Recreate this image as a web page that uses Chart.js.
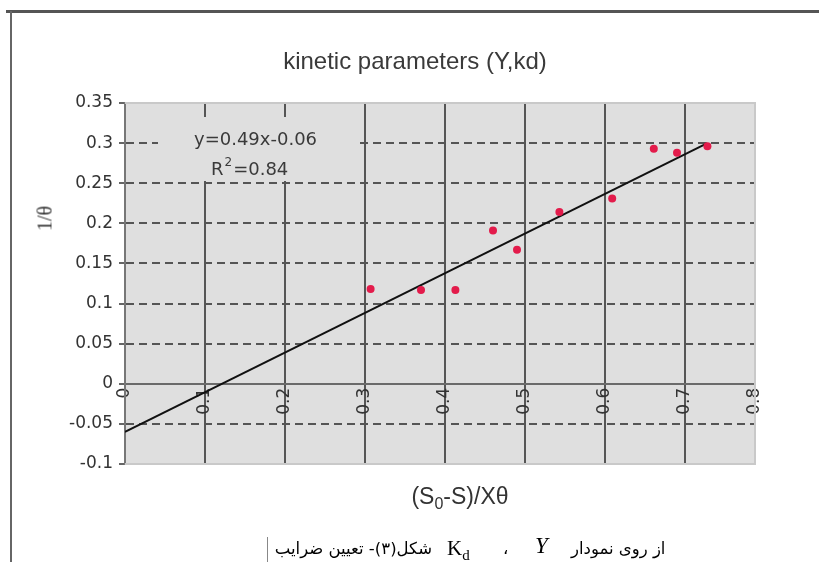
<!DOCTYPE html>
<html>
<head>
<meta charset="utf-8">
<script src="https://cdn.jsdelivr.net/npm/chart.js@4.4.0/dist/chart.umd.min.js"></script>
<style>
  html, body { margin: 0; padding: 0; background: #ffffff; }
  #wrap { position: relative; width: 819px; height: 562px; overflow: hidden; }
  #chart { position: absolute; left: 0; top: 0; }
  .frame { position: absolute; background: #555; }
  .txt { position: absolute; white-space: nowrap; color: #333; }
  #title { left: 165px; width: 500px; top: 47px; text-align: center; font: 24px "Liberation Sans", sans-serif; color: #3a3a3a; }
  #ytitle { left: 20px; top: 207px; width: 50px; text-align: center; font: 20px "Liberation Serif", serif; transform: rotate(-90deg); }
  #xtitle { left: 360px; width: 200px; top: 483px; text-align: center; font: 23px "Liberation Sans", sans-serif; }
  #xtitle sub { font-size: 16px; vertical-align: -5px; }
  .fa { font: 16.5px "DejaVu Sans", sans-serif; direction: rtl; color: #000; top: 539px; }
  .math { font: 21px "Liberation Serif", serif; color: #000; top: 536px; }
</style>
</head>
<body>
<div id="wrap">
  <canvas id="chart" width="819" height="562"></canvas>
  <div class="frame" style="left:6px; top:10px; width:813px; height:3px;"></div>
  <div class="frame" style="left:10px; top:11px; width:2px; height:551px; background:#666;"></div>
  <div class="frame" style="left:267px; top:537px; width:1px; height:25px; background:#888;"></div>
  <div class="txt" id="title">kinetic parameters (Y,kd)</div>
  <div class="txt" id="ytitle">1/θ</div>
  <div class="txt" id="xtitle">(S<sub>0</sub>-S)/Xθ</div>
  <div class="txt fa" style="right:387px;">شکل(۳)- تعیین ضرایب</div>
  <div class="txt math" style="left:447px;">K<sub style="font-size:15px; vertical-align:-5px;">d</sub></div>
  <div class="txt fa" style="left:503px;">،</div>
  <div class="txt math" style="left:535px; font-style:italic; font-size:23px; top:533px;">Y</div>
  <div class="txt fa" style="left:571px;">از روی نمودار</div>
</div>
<script>
const canvas = document.getElementById("chart");

// measured points (S0-S)/X.theta vs 1/theta
const xValues = [0.307, 0.370, 0.413, 0.460, 0.490, 0.543, 0.609, 0.661, 0.690, 0.728];
const yValues = [0.118, 0.117, 0.117, 0.191, 0.167, 0.214, 0.231, 0.293, 0.288, 0.296];
// end points of the fitted line y=0.49x-0.06
const trendX = [0, 0.728];
const trendY = [-0.06, 0.300];
const equationText = "y=0.49x-0.06";
const r2Text = "0.84";
// axis ticks
const xTicks = [0, 0.1, 0.2, 0.3, 0.4, 0.5, 0.6, 0.7];
const xTickLabels = ["0", "0.1", "0.2", "0.3", "0.4", "0.5", "0.6", "0.7", "0.8"];
const yTicks = [-0.1, -0.05, 0, 0.05, 0.1, 0.15, 0.2, 0.25, 0.3, 0.35];
// last column of the original picture is squeezed, so the 0.8 edge sits here
const xEdge = 0.7875;

const plotBg = "#dfdfdf";
const gridDark = "#555555";
const tickFont = { family: "DejaVu Sans", size: 17 };

const points = xValues.map((x, i) => ({ x: x, y: yValues[i] }));
const trend = trendX.map((x, i) => ({ x: x, y: trendY[i] }));

//background of the plot + light outer edge
const plotArea = {
  id: "plotArea",
  beforeDraw(chart) {
    const a = chart.chartArea;
    const ctx = chart.ctx;
    ctx.save();
    ctx.fillStyle = plotBg;
    ctx.fillRect(a.left, a.top, a.right - a.left, a.bottom - a.top);
    ctx.restore();
  },
  beforeDatasetsDraw(chart) {
    const a = chart.chartArea;
    const ctx = chart.ctx;
    ctx.save();
    ctx.strokeStyle = "#c9c9c9";
    ctx.lineWidth = 2;
    ctx.beginPath();
    ctx.moveTo(a.left, a.top);
    ctx.lineTo(a.right, a.top);
    ctx.lineTo(a.right, a.bottom);
    ctx.lineTo(a.left, a.bottom);
    ctx.stroke();
    // trendline label box covers the grid
    ctx.fillStyle = plotBg;
    ctx.fillRect(158, 117, 200, 64);
    ctx.fillStyle = "#3a3a3a";
    ctx.font = '18px "DejaVu Sans"';
    ctx.textBaseline = "alphabetic";
    ctx.textAlign = "left";
    ctx.fillText(equationText, 194, 145);
    let x = 211;
    ctx.fillText("R", x, 175);
    x += ctx.measureText("R").width;
    ctx.font = '12px "DejaVu Sans"';
    ctx.fillText("2", x + 1, 166);
    x += ctx.measureText("2").width + 2;
    ctx.font = '18px "DejaVu Sans"';
    ctx.fillText("=" + r2Text, x, 175);
    ctx.restore();
  }
};

let myChart = new Chart(canvas, {
  type: "scatter",
  plugins: [plotArea],
  data: {
    datasets: [
      {
        data: points,
        backgroundColor: "#e31b4b",
        borderWidth: 0,
        pointRadius: 4,
        order: 0,
      },
      {
        data: trend,
        showLine: true,
        borderColor: "#111111",
        borderWidth: 2,
        pointRadius: 0,
        order: 1,
      },
    ],
  },
  options: {
    responsive: false,
    animation: false,
    devicePixelRatio: 1,
    layout: { padding: { left: 0, top: 103, right: 64, bottom: 98 } },
    plugins: {
      legend: { display: false },
      tooltip: { enabled: false },
    },
    scales: {
      x: {
        type: "linear",
        position: { y: 0 },
        min: 0,
        max: xEdge,
        afterBuildTicks: (scale) => {
          scale.ticks = xTicks.concat([xEdge]).map((v) => ({ value: v }));
        },
        ticks: {
          minRotation: 90,
          maxRotation: 90,
          padding: 4,
          color: "#333",
          font: tickFont,
          callback: (v, i) => xTickLabels[i],
        },
        grid: {
          drawTicks: false,
          lineWidth: 2,
          color: (ctx) => {
            if (!ctx.tick) return gridDark;
            if (ctx.tick.value === 0) return "#777";
            if (ctx.tick.value === xEdge) return "rgba(0,0,0,0)";
            return gridDark;
          },
        },
        border: { display: true, color: "#6a6a6a", width: 2 },
      },
      y: {
        type: "linear",
        min: -0.1,
        max: 0.35,
        afterBuildTicks: (scale) => {
          scale.ticks = yTicks.map((v) => ({ value: v }));
        },
        afterFit: (scale) => {
          scale.width = 125;
        },
        ticks: {
          padding: 6,
          color: "#333",
          font: tickFont,
          callback: (v) => String(v),
        },
        grid: {
          lineWidth: 2,
          tickLength: 6,
          tickColor: "#666",
          tickWidth: 2,
          tickBorderDash: [],
          color: (ctx) => {
            if (!ctx.tick) return gridDark;
            const v = ctx.tick.value;
            if (v === 0.35 || v === -0.1) return "rgba(0,0,0,0)";
            return gridDark;
          },
        },
        border: { display: true, color: "#777", width: 2, dash: [8, 5] },
      },
    },
  },
});
</script>
</body>
</html>
